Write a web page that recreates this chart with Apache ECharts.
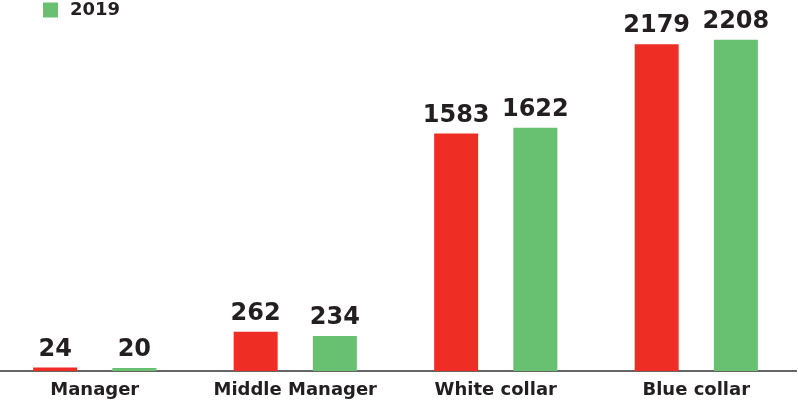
<!DOCTYPE html>
<html>
<head>
<meta charset="utf-8">
<style>
  html, body { margin: 0; padding: 0; background: #ffffff; }
  #chart { width: 798px; height: 405px; }
</style>
<script src="https://cdn.jsdelivr.net/npm/echarts@6/dist/echarts.min.js"></script>
</head>
<body>
<div id="chart"></div>
<script>
// Job levels and headcounts per year
const categories = ['Manager', 'Middle Manager', 'White collar', 'Blue collar'];
const seriesNames = ['2018', '2019'];
const values2018 = [24, 262, 1583, 2179];
const values2019 = [20, 234, 1622, 2208];

const RED = '#ee2e24';
const GREEN = '#68c171';
const INK = '#231f20';
const FONT = '"DejaVu Sans", sans-serif';

const chart = echarts.init(document.getElementById('chart'), null, { renderer: 'canvas' });

function barSeries(name, data, color) {
  return {
    name: name,
    type: 'bar',
    data: data,
    barWidth: 44,
    barGap: '80%',
    itemStyle: { color: color },
    label: {
      show: true,
      position: 'top',
      distance: 6,
      color: INK,
      fontFamily: FONT,
      fontWeight: 'bold',
      fontSize: 24
    }
  };
}

chart.setOption({
  animation: false,
  backgroundColor: '#ffffff',
  legend: {
    orient: 'vertical',
    left: 38,
    top: -30,
    itemGap: 8,
    itemWidth: 15,
    itemHeight: 15,
    icon: 'rect',
    data: seriesNames,
    textStyle: {
      color: INK,
      fontFamily: FONT,
      fontWeight: 'bold',
      fontSize: 18,
      padding: [0, 0, 0, 7]
    }
  },
  grid: {
    left: -5.5,
    right: 1.5,
    top: 11,
    bottom: 34,
    containLabel: false,
    outerBoundsMode: 'none'
  },
  xAxis: {
    type: 'category',
    data: categories,
    axisTick: { show: false },
    axisLine: { show: true, lineStyle: { color: '#333333', width: 1.5 } },
    axisLabel: {
      interval: 0,
      margin: 10,
      color: INK,
      fontFamily: FONT,
      fontWeight: 'bold',
      fontSize: 18
    }
  },
  yAxis: {
    type: 'value',
    min: 0,
    max: 2400,
    show: false,
    splitLine: { show: false }
  },
  series: [
    barSeries(seriesNames[0], values2018, RED),
    barSeries(seriesNames[1], values2019, GREEN)
  ]
});
</script>
</body>
</html>
